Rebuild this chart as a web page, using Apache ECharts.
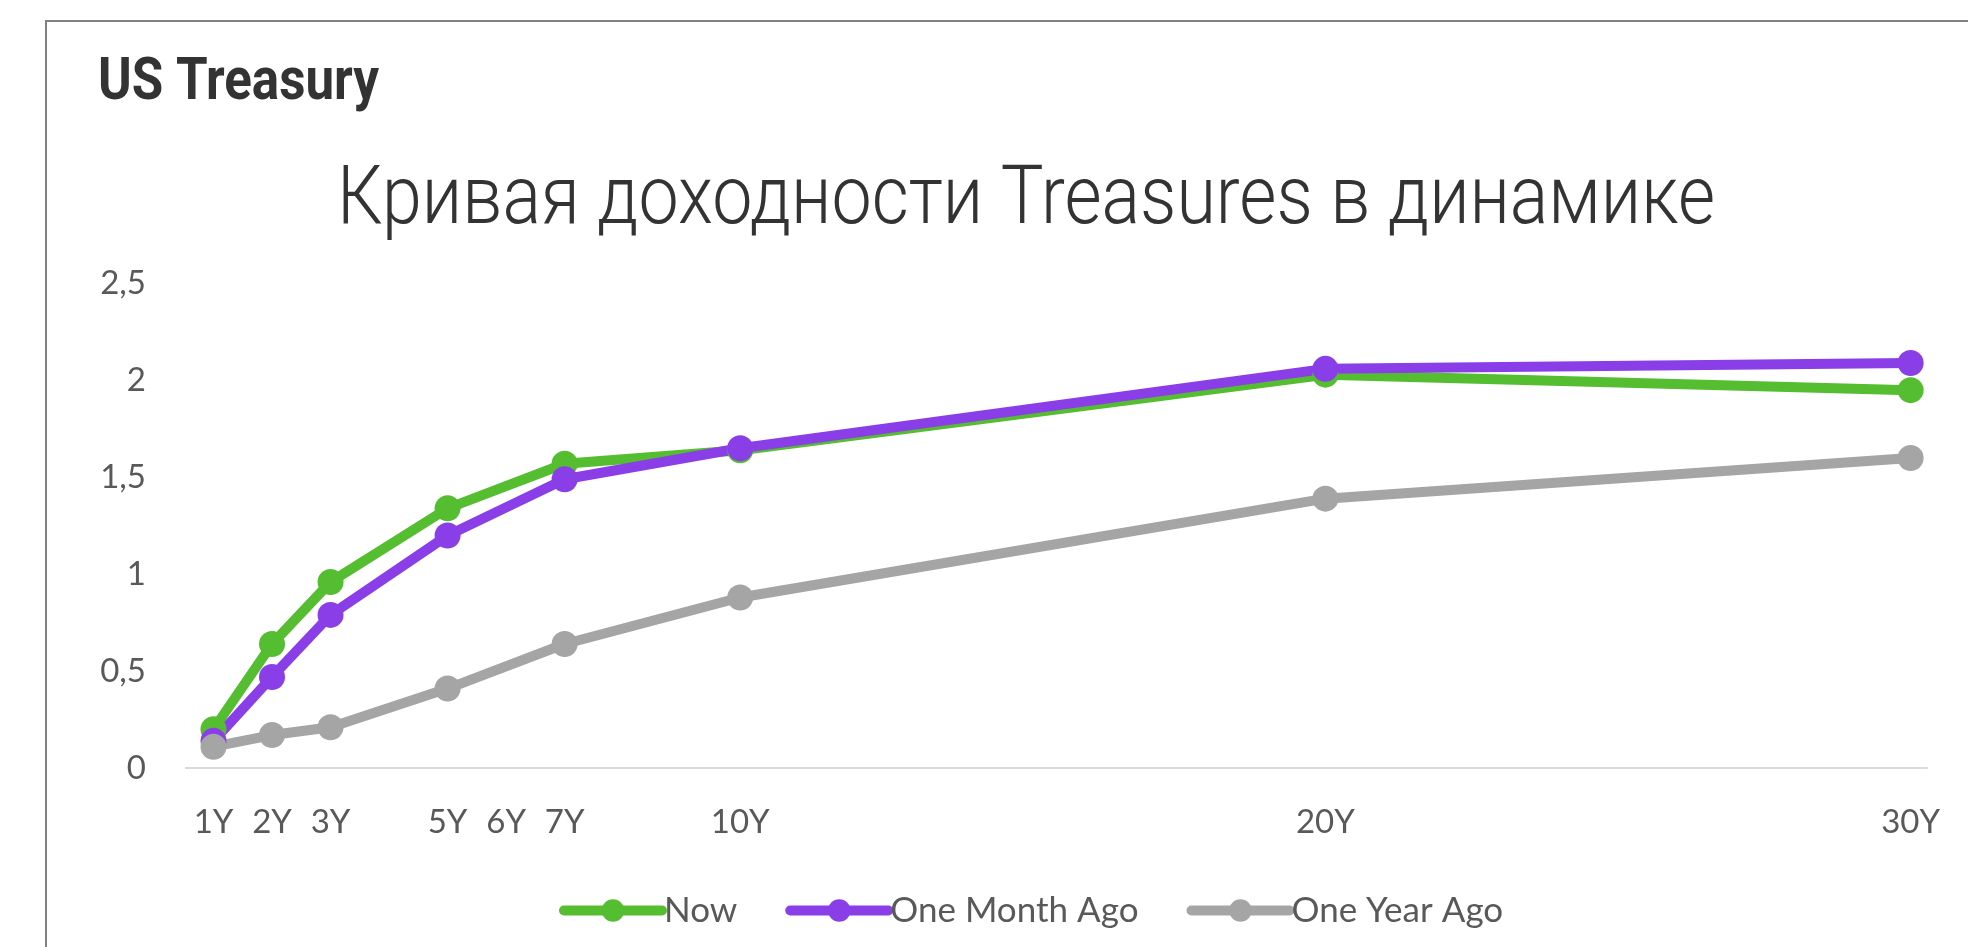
<!DOCTYPE html>
<html>
<head>
<meta charset="utf-8">
<script src="https://cdn.jsdelivr.net/npm/echarts@6/dist/echarts.min.js"></script>
<style>
	html, body {margin: 0; padding: 0; background: #fff;}
	#chart_yield {width: 1968px; height: 947px;}
</style>
</head>
<body>
<div id="chart_yield"></div>
<script>
// tenors in years, x positions on the value axis
var tenors = [1, 2, 3, 5, 7, 10, 20, 30];
var tenor_labels = [1, 2, 3, 5, 6, 7, 10, 20, 30];

var yield_now = [0.20, 0.64, 0.96, 1.34, 1.57, 1.64, 2.03, 1.95];
var yield_month_ago = [0.14, 0.47, 0.79, 1.20, 1.49, 1.65, 2.06, 2.09];
var yield_year_ago = [0.11, 0.17, 0.21, 0.41, 0.64, 0.88, 1.39, 1.60];

var series_names = ['Now', 'One Month Ago', 'One Year Ago'];
var series_colors = ['#54bd30', '#8a3ee8', '#a5a5a5'];

var header_text = 'US Treasury';
var title_text = 'Кривая доходности Treasures в динамике';

function to_points(values){
	var res = [];
	for (var i = 0; i < tenors.length; i++) res.push([tenors[i], values[i]]);
	return res;
}

function line_series(name, values, color){
	return {
		name: name, type: 'line', data: to_points(values),
		symbol: 'circle', symbolSize: 26, showSymbol: true,
		itemStyle: {color: color},
		lineStyle: {width: 10, color: color, cap: 'round', join: 'round'},
		emphasis: {disabled: true}
	};
}

// the original fonts are condensed, squeeze the text to the same width
function fit_scale(text, font, target){
	var ctx = document.createElement('canvas').getContext('2d');
	ctx.font = font;
	return target / ctx.measureText(text).width;
}

var header_font = "bold 59px Roboto";
var title_font = "300 82px Roboto";

var myChart = echarts.init(document.getElementById('chart_yield'));

var options = {
	animation: false,
	backgroundColor: '#fff',
	graphic: [
		{type: 'rect', shape: {x: 46, y: 21, width: 2000, height: 1000}, style: {fill: 'none', stroke: '#808080', lineWidth: 2}, silent: true},
		{type: 'text', x: 98, y: 84, scaleX: fit_scale(header_text, header_font, 281), silent: true,
			style: {text: header_text, font: header_font, fill: '#333', align: 'left', verticalAlign: 'middle'}},
		{type: 'text', x: 337, y: 202, scaleX: fit_scale(title_text, title_font, 1378), silent: true,
			style: {text: title_text, font: title_font, fill: '#333', align: 'left', verticalAlign: 'middle'}}
	],
	legend: {
		left: 554, top: 888,
		itemWidth: 98, itemHeight: 28, itemGap: 48,
		data: series_names,
		lineStyle: {width: 10, cap: 'round'},
		textStyle: {fontFamily: 'Lato', fontSize: 35, color: '#595959', padding: [0, 0, 0, -3]}
	},
	grid: {left: 186, right: 41, top: 283.6, bottom: 179, containLabel: false},
	xAxis: {
		type: 'value', min: 0.53, max: 30.28,
		axisLine: {show: true, lineStyle: {color: '#d9d9d9', width: 2}},
		axisTick: {show: false},
		splitLine: {show: false},
		axisLabel: {
			customValues: tenor_labels, margin: 38,
			fontFamily: 'Lato', fontSize: 33, color: '#595959',
			formatter: function(v){ return v + 'Y'; }
		}
	},
	yAxis: {
		type: 'value', min: 0, max: 2.5, interval: 0.5,
		axisLine: {show: false}, axisTick: {show: false}, splitLine: {show: false},
		axisLabel: {
			margin: 40, fontFamily: 'Lato', fontSize: 33, color: '#595959',
			formatter: function(v){ return String(v).replace('.', ','); }
		}
	},
	series: [
		line_series(series_names[0], yield_now, series_colors[0]),
		line_series(series_names[1], yield_month_ago, series_colors[1]),
		line_series(series_names[2], yield_year_ago, series_colors[2])
	]
};

myChart.setOption((options), true);
</script>
</body>
</html>
